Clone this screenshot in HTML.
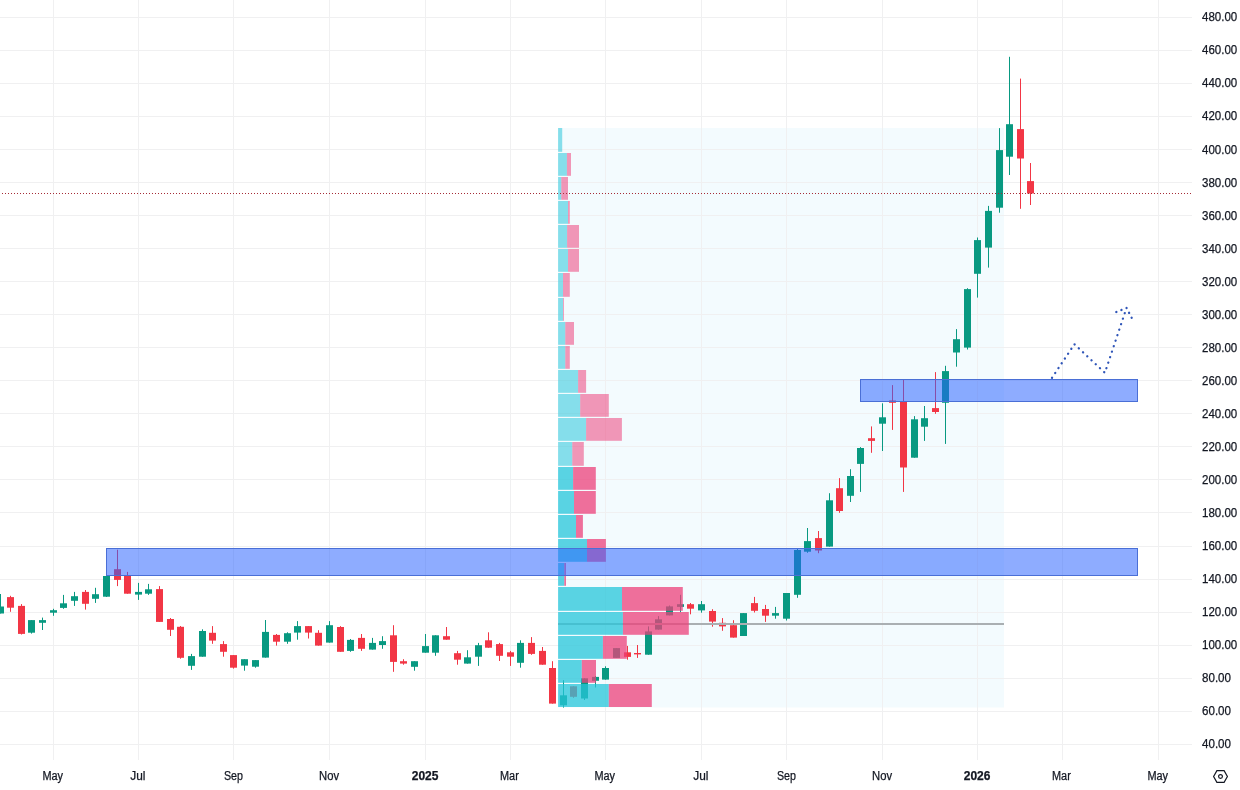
<!DOCTYPE html>
<html lang="en"><head><meta charset="utf-8"><title>Chart</title>
<style>html,body{margin:0;padding:0;background:#fff}body{width:1240px;height:790px;overflow:hidden}svg{display:block}text{font-family:"Liberation Sans",Arial,sans-serif;font-size:12px;fill:#131722;stroke:#131722;stroke-width:.25px}</style></head><body>
<svg width="1240" height="790" viewBox="0 0 1240 790">
<rect width="1240" height="790" fill="#fff"/>
<rect x="558" y="128" width="446" height="579.5" fill="#f3fbfe"/>
<g stroke="#f0f0f1" stroke-width="1" shape-rendering="crispEdges">
<line x1="0" y1="744.5" x2="1192" y2="744.5"/>
<line x1="0" y1="711.5" x2="1192" y2="711.5"/>
<line x1="0" y1="678.5" x2="1192" y2="678.5"/>
<line x1="0" y1="645.5" x2="1192" y2="645.5"/>
<line x1="0" y1="612.5" x2="1192" y2="612.5"/>
<line x1="0" y1="579.5" x2="1192" y2="579.5"/>
<line x1="0" y1="546.5" x2="1192" y2="546.5"/>
<line x1="0" y1="512.5" x2="1192" y2="512.5"/>
<line x1="0" y1="479.5" x2="1192" y2="479.5"/>
<line x1="0" y1="446.5" x2="1192" y2="446.5"/>
<line x1="0" y1="413.5" x2="1192" y2="413.5"/>
<line x1="0" y1="380.5" x2="1192" y2="380.5"/>
<line x1="0" y1="347.5" x2="1192" y2="347.5"/>
<line x1="0" y1="314.5" x2="1192" y2="314.5"/>
<line x1="0" y1="281.5" x2="1192" y2="281.5"/>
<line x1="0" y1="248.5" x2="1192" y2="248.5"/>
<line x1="0" y1="215.5" x2="1192" y2="215.5"/>
<line x1="0" y1="182.5" x2="1192" y2="182.5"/>
<line x1="0" y1="149.5" x2="1192" y2="149.5"/>
<line x1="0" y1="116.5" x2="1192" y2="116.5"/>
<line x1="0" y1="83.5" x2="1192" y2="83.5"/>
<line x1="0" y1="50.5" x2="1192" y2="50.5"/>
<line x1="0" y1="17.5" x2="1192" y2="17.5"/>
<line x1="53.5" y1="0" x2="53.5" y2="760"/>
<line x1="138.5" y1="0" x2="138.5" y2="760"/>
<line x1="233.5" y1="0" x2="233.5" y2="760"/>
<line x1="329.5" y1="0" x2="329.5" y2="760"/>
<line x1="425.5" y1="0" x2="425.5" y2="760"/>
<line x1="510.5" y1="0" x2="510.5" y2="760"/>
<line x1="605.5" y1="0" x2="605.5" y2="760"/>
<line x1="701.5" y1="0" x2="701.5" y2="760"/>
<line x1="786.5" y1="0" x2="786.5" y2="760"/>
<line x1="882.5" y1="0" x2="882.5" y2="760"/>
<line x1="977.5" y1="0" x2="977.5" y2="760"/>
<line x1="1062.5" y1="0" x2="1062.5" y2="760"/>
<line x1="1158.5" y1="0" x2="1158.5" y2="760"/>
</g>
<g>
<rect x="0.0" y="594.0" width="1" height="19.5" fill="#089981"/><rect x="-3.0" y="606.5" width="7" height="7.0" fill="#089981"/>
<rect x="10.0" y="595.8" width="1" height="16.0" fill="#F23645"/><rect x="7.0" y="597.1" width="7" height="10.6" fill="#F23645"/>
<rect x="21.0" y="604.1" width="1" height="30.4" fill="#F23645"/><rect x="18.0" y="605.9" width="7" height="28.0" fill="#F23645"/>
<rect x="31.0" y="620.1" width="1" height="13.5" fill="#089981"/><rect x="28.0" y="620.1" width="7" height="12.6" fill="#089981"/>
<rect x="42.0" y="617.6" width="1" height="12.4" fill="#089981"/><rect x="39.0" y="620.1" width="7" height="2.7" fill="#089981"/>
<rect x="53.0" y="608.8" width="1" height="7.0" fill="#089981"/><rect x="50.0" y="610.2" width="7" height="2.5" fill="#089981"/>
<rect x="63.0" y="594.9" width="1" height="13.9" fill="#089981"/><rect x="60.0" y="603.3" width="7" height="4.6" fill="#089981"/>
<rect x="74.0" y="591.9" width="1" height="14.0" fill="#089981"/><rect x="71.0" y="596.2" width="7" height="4.6" fill="#089981"/>
<rect x="85.0" y="590.0" width="1" height="19.6" fill="#F23645"/><rect x="82.0" y="591.9" width="7" height="11.9" fill="#F23645"/>
<rect x="95.0" y="587.8" width="1" height="15.1" fill="#089981"/><rect x="92.0" y="594.2" width="7" height="4.6" fill="#089981"/>
<rect x="106.0" y="575.5" width="1" height="21.5" fill="#089981"/><rect x="103.0" y="576.0" width="7" height="20.7" fill="#089981"/>
<rect x="117.0" y="549.7" width="1" height="36.4" fill="#F23645"/><rect x="114.0" y="569.2" width="7" height="10.7" fill="#F23645"/>
<rect x="127.0" y="571.9" width="1" height="21.8" fill="#F23645"/><rect x="124.0" y="575.4" width="7" height="18.3" fill="#F23645"/>
<rect x="138.0" y="582.9" width="1" height="17.0" fill="#089981"/><rect x="135.0" y="591.9" width="7" height="2.7" fill="#089981"/>
<rect x="148.0" y="583.9" width="1" height="11.0" fill="#089981"/><rect x="145.0" y="589.3" width="7" height="4.4" fill="#089981"/>
<rect x="159.0" y="586.1" width="1" height="35.8" fill="#F23645"/><rect x="156.0" y="589.1" width="7" height="32.8" fill="#F23645"/>
<rect x="170.0" y="618.0" width="1" height="18.0" fill="#F23645"/><rect x="167.0" y="619.0" width="7" height="10.8" fill="#F23645"/>
<rect x="180.0" y="626.0" width="1" height="32.7" fill="#F23645"/><rect x="177.0" y="626.8" width="7" height="31.0" fill="#F23645"/>
<rect x="191.0" y="653.9" width="1" height="16.0" fill="#089981"/><rect x="188.0" y="656.1" width="7" height="9.7" fill="#089981"/>
<rect x="202.0" y="629.3" width="1" height="27.4" fill="#089981"/><rect x="199.0" y="631.0" width="7" height="25.7" fill="#089981"/>
<rect x="212.0" y="626.1" width="1" height="17.7" fill="#F23645"/><rect x="209.0" y="632.8" width="7" height="7.8" fill="#F23645"/>
<rect x="223.0" y="641.1" width="1" height="15.6" fill="#F23645"/><rect x="220.0" y="644.1" width="7" height="7.7" fill="#F23645"/>
<rect x="233.0" y="655.1" width="1" height="13.5" fill="#F23645"/><rect x="230.0" y="655.1" width="7" height="12.6" fill="#F23645"/>
<rect x="244.0" y="659.2" width="1" height="11.5" fill="#089981"/><rect x="241.0" y="659.2" width="7" height="6.4" fill="#089981"/>
<rect x="255.0" y="660.1" width="1" height="7.6" fill="#089981"/><rect x="252.0" y="660.1" width="7" height="6.6" fill="#089981"/>
<rect x="265.0" y="620.0" width="1" height="37.6" fill="#089981"/><rect x="262.0" y="631.9" width="7" height="25.7" fill="#089981"/>
<rect x="276.0" y="634.0" width="1" height="11.6" fill="#F23645"/><rect x="273.0" y="634.9" width="7" height="6.8" fill="#F23645"/>
<rect x="287.0" y="632.3" width="1" height="11.5" fill="#089981"/><rect x="284.0" y="633.2" width="7" height="8.5" fill="#089981"/>
<rect x="297.0" y="621.1" width="1" height="18.6" fill="#089981"/><rect x="294.0" y="626.1" width="7" height="6.5" fill="#089981"/>
<rect x="308.0" y="626.1" width="1" height="12.4" fill="#F23645"/><rect x="305.0" y="626.1" width="7" height="6.5" fill="#F23645"/>
<rect x="318.0" y="630.2" width="1" height="15.4" fill="#F23645"/><rect x="315.0" y="632.8" width="7" height="12.8" fill="#F23645"/>
<rect x="329.0" y="621.1" width="1" height="21.5" fill="#089981"/><rect x="326.0" y="625.2" width="7" height="17.4" fill="#089981"/>
<rect x="340.0" y="626.1" width="1" height="25.7" fill="#F23645"/><rect x="337.0" y="627.0" width="7" height="24.8" fill="#F23645"/>
<rect x="350.0" y="639.0" width="1" height="12.8" fill="#089981"/><rect x="347.0" y="639.9" width="7" height="11.0" fill="#089981"/>
<rect x="361.0" y="634.0" width="1" height="16.9" fill="#F23645"/><rect x="358.0" y="637.9" width="7" height="10.9" fill="#F23645"/>
<rect x="372.0" y="637.9" width="1" height="11.7" fill="#089981"/><rect x="369.0" y="642.9" width="7" height="6.7" fill="#089981"/>
<rect x="382.0" y="636.2" width="1" height="12.6" fill="#089981"/><rect x="379.0" y="641.1" width="7" height="3.9" fill="#089981"/>
<rect x="393.0" y="625.2" width="1" height="46.6" fill="#F23645"/><rect x="390.0" y="635.3" width="7" height="26.6" fill="#F23645"/>
<rect x="403.0" y="659.2" width="1" height="5.5" fill="#F23645"/><rect x="400.0" y="661.2" width="7" height="2.4" fill="#F23645"/>
<rect x="414.0" y="661.2" width="1" height="9.5" fill="#089981"/><rect x="411.0" y="661.2" width="7" height="5.6" fill="#089981"/>
<rect x="425.0" y="634.0" width="1" height="18.7" fill="#089981"/><rect x="422.0" y="646.1" width="7" height="6.6" fill="#089981"/>
<rect x="435.0" y="635.3" width="1" height="20.5" fill="#089981"/><rect x="432.0" y="635.3" width="7" height="17.4" fill="#089981"/>
<rect x="446.0" y="627.0" width="1" height="12.7" fill="#F23645"/><rect x="443.0" y="636.2" width="7" height="3.5" fill="#F23645"/>
<rect x="457.0" y="650.9" width="1" height="13.8" fill="#F23645"/><rect x="454.0" y="653.2" width="7" height="6.5" fill="#F23645"/>
<rect x="467.0" y="650.2" width="1" height="13.4" fill="#089981"/><rect x="464.0" y="657.3" width="7" height="6.3" fill="#089981"/>
<rect x="478.0" y="642.9" width="1" height="23.0" fill="#089981"/><rect x="475.0" y="645.2" width="7" height="11.5" fill="#089981"/>
<rect x="488.0" y="632.3" width="1" height="15.4" fill="#F23645"/><rect x="485.0" y="640.3" width="7" height="7.4" fill="#F23645"/>
<rect x="499.0" y="642.9" width="1" height="18.1" fill="#F23645"/><rect x="496.0" y="644.1" width="7" height="11.7" fill="#F23645"/>
<rect x="510.0" y="650.9" width="1" height="15.0" fill="#F23645"/><rect x="507.0" y="652.3" width="7" height="4.4" fill="#F23645"/>
<rect x="520.0" y="640.3" width="1" height="27.4" fill="#089981"/><rect x="517.0" y="642.9" width="7" height="19.9" fill="#089981"/>
<rect x="531.0" y="637.1" width="1" height="17.7" fill="#F23645"/><rect x="528.0" y="642.9" width="7" height="11.0" fill="#F23645"/>
<rect x="542.0" y="647.0" width="1" height="17.7" fill="#F23645"/><rect x="539.0" y="650.9" width="7" height="13.8" fill="#F23645"/>
<rect x="552.0" y="661.2" width="1" height="42.4" fill="#F23645"/><rect x="549.0" y="668.0" width="7" height="35.6" fill="#F23645"/>
<rect x="563.0" y="680.2" width="1" height="27.4" fill="#089981"/><rect x="560.0" y="695.3" width="7" height="10.0" fill="#089981"/>
<rect x="573.0" y="686.3" width="1" height="11.5" fill="#F23645"/><rect x="570.0" y="686.3" width="7" height="10.5" fill="#F23645"/>
<rect x="584.0" y="678.3" width="1" height="21.7" fill="#089981"/><rect x="581.0" y="678.3" width="7" height="20.2" fill="#089981"/>
<rect x="595.0" y="676.0" width="1" height="11.5" fill="#089981"/><rect x="592.0" y="676.9" width="7" height="3.9" fill="#089981"/>
<rect x="605.0" y="666.3" width="1" height="13.3" fill="#089981"/><rect x="602.0" y="668.0" width="7" height="11.6" fill="#089981"/>
<rect x="616.0" y="648.1" width="1" height="9.8" fill="#089981"/><rect x="613.0" y="648.1" width="7" height="9.8" fill="#089981"/>
<rect x="627.0" y="645.9" width="1" height="13.8" fill="#F23645"/><rect x="624.0" y="652.3" width="7" height="4.6" fill="#F23645"/>
<rect x="637.0" y="645.0" width="1" height="12.9" fill="#F23645"/><rect x="634.0" y="653.0" width="7" height="1.4" fill="#F23645"/>
<rect x="648.0" y="626.4" width="1" height="28.3" fill="#089981"/><rect x="645.0" y="631.4" width="7" height="23.3" fill="#089981"/>
<rect x="658.0" y="616.1" width="1" height="13.5" fill="#089981"/><rect x="655.0" y="619.3" width="7" height="10.3" fill="#089981"/>
<rect x="669.0" y="605.5" width="1" height="9.9" fill="#089981"/><rect x="666.0" y="606.4" width="7" height="9.0" fill="#089981"/>
<rect x="680.0" y="594.8" width="1" height="17.4" fill="#089981"/><rect x="677.0" y="604.2" width="7" height="2.7" fill="#089981"/>
<rect x="690.0" y="603.0" width="1" height="11.3" fill="#F23645"/><rect x="687.0" y="604.2" width="7" height="4.5" fill="#F23645"/>
<rect x="701.0" y="601.0" width="1" height="11.7" fill="#089981"/><rect x="698.0" y="604.2" width="7" height="6.2" fill="#089981"/>
<rect x="712.0" y="609.2" width="1" height="17.5" fill="#F23645"/><rect x="709.0" y="611.0" width="7" height="10.6" fill="#F23645"/>
<rect x="722.0" y="618.1" width="1" height="12.7" fill="#F23645"/><rect x="719.0" y="622.8" width="7" height="3.6" fill="#F23645"/>
<rect x="733.0" y="620.2" width="1" height="17.4" fill="#F23645"/><rect x="730.0" y="625.2" width="7" height="12.4" fill="#F23645"/>
<rect x="743.0" y="613.1" width="1" height="22.9" fill="#089981"/><rect x="740.0" y="613.1" width="7" height="22.9" fill="#089981"/>
<rect x="754.0" y="596.9" width="1" height="15.6" fill="#F23645"/><rect x="751.0" y="603.1" width="7" height="7.7" fill="#F23645"/>
<rect x="765.0" y="604.9" width="1" height="17.0" fill="#F23645"/><rect x="762.0" y="609.0" width="7" height="6.7" fill="#F23645"/>
<rect x="775.0" y="606.9" width="1" height="11.8" fill="#089981"/><rect x="772.0" y="613.1" width="7" height="2.6" fill="#089981"/>
<rect x="786.0" y="593.0" width="1" height="27.5" fill="#089981"/><rect x="783.0" y="593.0" width="7" height="25.7" fill="#089981"/>
<rect x="797.0" y="548.2" width="1" height="49.6" fill="#089981"/><rect x="794.0" y="550.0" width="7" height="44.8" fill="#089981"/>
<rect x="807.0" y="528.0" width="1" height="24.8" fill="#089981"/><rect x="804.0" y="541.1" width="7" height="10.6" fill="#089981"/>
<rect x="818.0" y="531.0" width="1" height="22.2" fill="#F23645"/><rect x="815.0" y="538.1" width="7" height="12.4" fill="#F23645"/>
<rect x="829.0" y="493.2" width="1" height="53.4" fill="#089981"/><rect x="826.0" y="500.3" width="7" height="46.3" fill="#089981"/>
<rect x="839.0" y="478.1" width="1" height="34.7" fill="#F23645"/><rect x="836.0" y="488.2" width="7" height="22.8" fill="#F23645"/>
<rect x="850.0" y="469.2" width="1" height="32.8" fill="#089981"/><rect x="847.0" y="476.0" width="7" height="19.8" fill="#089981"/>
<rect x="860.0" y="447.1" width="1" height="44.8" fill="#089981"/><rect x="857.0" y="448.0" width="7" height="15.9" fill="#089981"/>
<rect x="871.0" y="426.4" width="1" height="26.4" fill="#F23645"/><rect x="868.0" y="438.2" width="7" height="2.7" fill="#F23645"/>
<rect x="882.0" y="403.3" width="1" height="47.7" fill="#089981"/><rect x="879.0" y="417.3" width="7" height="6.4" fill="#089981"/>
<rect x="892.0" y="385.1" width="1" height="44.8" fill="#F23645"/><rect x="889.0" y="400.5" width="7" height="2.3" fill="#F23645"/>
<rect x="903.0" y="379.7" width="1" height="112.2" fill="#F23645"/><rect x="900.0" y="401.9" width="7" height="65.6" fill="#F23645"/>
<rect x="914.0" y="416.1" width="1" height="41.6" fill="#089981"/><rect x="911.0" y="419.3" width="7" height="38.4" fill="#089981"/>
<rect x="924.0" y="406.0" width="1" height="34.9" fill="#089981"/><rect x="921.0" y="418.2" width="7" height="8.5" fill="#089981"/>
<rect x="935.0" y="372.1" width="1" height="41.7" fill="#F23645"/><rect x="932.0" y="408.1" width="7" height="3.9" fill="#F23645"/>
<rect x="945.0" y="365.8" width="1" height="78.1" fill="#089981"/><rect x="942.0" y="371.1" width="7" height="31.7" fill="#089981"/>
<rect x="956.0" y="329.1" width="1" height="37.6" fill="#089981"/><rect x="953.0" y="339.2" width="7" height="13.3" fill="#089981"/>
<rect x="967.0" y="288.2" width="1" height="61.3" fill="#089981"/><rect x="964.0" y="289.1" width="7" height="58.5" fill="#089981"/>
<rect x="977.0" y="237.5" width="1" height="60.1" fill="#089981"/><rect x="974.0" y="240.1" width="7" height="33.7" fill="#089981"/>
<rect x="988.0" y="205.9" width="1" height="61.7" fill="#089981"/><rect x="985.0" y="210.9" width="7" height="36.7" fill="#089981"/>
<rect x="999.0" y="128.1" width="1" height="84.6" fill="#089981"/><rect x="996.0" y="150.1" width="7" height="57.6" fill="#089981"/>
<rect x="1009.0" y="56.8" width="1" height="118.2" fill="#089981"/><rect x="1006.0" y="124.2" width="7" height="32.5" fill="#089981"/>
<rect x="1020.0" y="78.6" width="1" height="130.2" fill="#F23645"/><rect x="1017.0" y="129.1" width="7" height="29.4" fill="#F23645"/>
<rect x="1030.0" y="163.0" width="1" height="42.0" fill="#F23645"/><rect x="1027.0" y="181.1" width="7" height="12.4" fill="#F23645"/>
</g>
<rect x="558" y="623" width="446" height="2" fill="#aaafb2"/>
<g>
<rect x="558.1" y="128.00" width="4.1" height="23.80" fill="#26c6da" fill-opacity="0.54"/>
<rect x="558.1" y="153.00" width="8.8" height="22.80" fill="#26c6da" fill-opacity="0.54"/>
<rect x="566.9" y="153.00" width="4.1" height="22.80" fill="#ec407a" fill-opacity="0.54"/>
<rect x="558.1" y="177.00" width="3.2" height="22.80" fill="#26c6da" fill-opacity="0.54"/>
<rect x="561.3" y="177.00" width="6.7" height="22.80" fill="#ec407a" fill-opacity="0.54"/>
<rect x="558.1" y="201.00" width="9.9" height="22.80" fill="#26c6da" fill-opacity="0.54"/>
<rect x="568" y="201.00" width="1.8" height="22.80" fill="#ec407a" fill-opacity="0.54"/>
<rect x="558.1" y="225.00" width="9.0" height="22.80" fill="#26c6da" fill-opacity="0.54"/>
<rect x="567.1" y="225.00" width="11.9" height="22.80" fill="#ec407a" fill-opacity="0.54"/>
<rect x="558.1" y="249.00" width="9.9" height="22.80" fill="#26c6da" fill-opacity="0.54"/>
<rect x="568" y="249.00" width="11.0" height="22.80" fill="#ec407a" fill-opacity="0.54"/>
<rect x="558.1" y="273.00" width="4.9" height="23.80" fill="#26c6da" fill-opacity="0.54"/>
<rect x="563" y="273.00" width="6.8" height="23.80" fill="#ec407a" fill-opacity="0.54"/>
<rect x="558.1" y="298.00" width="4.9" height="22.80" fill="#26c6da" fill-opacity="0.54"/>
<rect x="563" y="298.00" width="0.9" height="22.80" fill="#ec407a" fill-opacity="0.54"/>
<rect x="558.1" y="322.00" width="7.2" height="22.80" fill="#26c6da" fill-opacity="0.54"/>
<rect x="565.3" y="322.00" width="8.7" height="22.80" fill="#ec407a" fill-opacity="0.54"/>
<rect x="558.1" y="346.00" width="7.2" height="22.80" fill="#26c6da" fill-opacity="0.54"/>
<rect x="565.3" y="346.00" width="4.5" height="22.80" fill="#ec407a" fill-opacity="0.54"/>
<rect x="558.1" y="370.00" width="20.0" height="22.80" fill="#26c6da" fill-opacity="0.54"/>
<rect x="578.1" y="370.00" width="8.0" height="22.80" fill="#ec407a" fill-opacity="0.54"/>
<rect x="558.1" y="394.00" width="22.1" height="22.80" fill="#26c6da" fill-opacity="0.54"/>
<rect x="580.2" y="394.00" width="28.6" height="22.80" fill="#ec407a" fill-opacity="0.54"/>
<rect x="558.1" y="418.00" width="28.0" height="22.80" fill="#26c6da" fill-opacity="0.54"/>
<rect x="586.1" y="418.00" width="35.8" height="22.80" fill="#ec407a" fill-opacity="0.54"/>
<rect x="558.1" y="442.00" width="14.2" height="23.80" fill="#26c6da" fill-opacity="0.54"/>
<rect x="572.3" y="442.00" width="11.5" height="23.80" fill="#ec407a" fill-opacity="0.54"/>
<rect x="558.1" y="467.00" width="15.0" height="22.80" fill="#26c6da" fill-opacity="0.75"/>
<rect x="573.1" y="467.00" width="22.7" height="22.80" fill="#ec407a" fill-opacity="0.75"/>
<rect x="558.1" y="491.00" width="15.9" height="22.80" fill="#26c6da" fill-opacity="0.75"/>
<rect x="574" y="491.00" width="21.8" height="22.80" fill="#ec407a" fill-opacity="0.75"/>
<rect x="558.1" y="515.00" width="17.9" height="22.80" fill="#26c6da" fill-opacity="0.75"/>
<rect x="576" y="515.00" width="6.9" height="22.80" fill="#ec407a" fill-opacity="0.75"/>
<rect x="558.1" y="539.00" width="28.9" height="22.80" fill="#26c6da" fill-opacity="0.75"/>
<rect x="587" y="539.00" width="18.9" height="22.80" fill="#ec407a" fill-opacity="0.75"/>
<rect x="558.1" y="563.00" width="6.2" height="22.80" fill="#26c6da" fill-opacity="0.75"/>
<rect x="564.3" y="563.00" width="1.7" height="22.80" fill="#ec407a" fill-opacity="0.75"/>
<rect x="558.1" y="587.00" width="63.9" height="23.80" fill="#26c6da" fill-opacity="0.75"/>
<rect x="622" y="587.00" width="60.8" height="23.80" fill="#ec407a" fill-opacity="0.75"/>
<rect x="558.1" y="612.00" width="64.8" height="22.80" fill="#26c6da" fill-opacity="0.75"/>
<rect x="622.9" y="612.00" width="65.9" height="22.80" fill="#ec407a" fill-opacity="0.75"/>
<rect x="558.1" y="636.00" width="44.8" height="22.80" fill="#26c6da" fill-opacity="0.75"/>
<rect x="602.9" y="636.00" width="23.9" height="22.80" fill="#ec407a" fill-opacity="0.75"/>
<rect x="558.1" y="660.00" width="23.7" height="22.80" fill="#26c6da" fill-opacity="0.75"/>
<rect x="581.8" y="660.00" width="14.2" height="22.80" fill="#ec407a" fill-opacity="0.75"/>
<rect x="558.1" y="684.00" width="50.7" height="23.00" fill="#26c6da" fill-opacity="0.75"/>
<rect x="608.8" y="684.00" width="43.0" height="23.00" fill="#ec407a" fill-opacity="0.75"/>
</g>
<rect x="106.5" y="548.5" width="1031" height="27" fill="#2962ff" fill-opacity="0.53" stroke="#4a6fd6" stroke-width="1"/>
<rect x="860.5" y="379.5" width="277" height="22" fill="#2962ff" fill-opacity="0.53" stroke="#4a6fd6" stroke-width="1"/>
<line x1="-1" y1="193.5" x2="1192" y2="193.5" stroke="#a52b36" stroke-width="1" stroke-dasharray="1 2"/>
<path d="M1052 377.8 L1074.4 344.2 L1104.9 372.8 L1126.5 307.9" fill="none" stroke="#2f55b8" stroke-width="2.3" stroke-dasharray="0.1 5.7" stroke-linecap="round"/>
<path d="M1116.3 312 L1126.5 307.9 L1132.1 318.6" fill="none" stroke="#2f55b8" stroke-width="2.3" stroke-dasharray="0.1 5.4" stroke-linecap="round"/>
<text x="1202" y="747.9" textLength="29.0" lengthAdjust="spacingAndGlyphs">40.00</text>
<text x="1202" y="714.9" textLength="29.0" lengthAdjust="spacingAndGlyphs">60.00</text>
<text x="1202" y="681.9" textLength="29.0" lengthAdjust="spacingAndGlyphs">80.00</text>
<text x="1202" y="648.9" textLength="35.2" lengthAdjust="spacingAndGlyphs">100.00</text>
<text x="1202" y="615.9" textLength="35.2" lengthAdjust="spacingAndGlyphs">120.00</text>
<text x="1202" y="582.9" textLength="35.2" lengthAdjust="spacingAndGlyphs">140.00</text>
<text x="1202" y="549.9" textLength="35.2" lengthAdjust="spacingAndGlyphs">160.00</text>
<text x="1202" y="516.9" textLength="35.2" lengthAdjust="spacingAndGlyphs">180.00</text>
<text x="1202" y="483.9" textLength="35.2" lengthAdjust="spacingAndGlyphs">200.00</text>
<text x="1202" y="450.9" textLength="35.2" lengthAdjust="spacingAndGlyphs">220.00</text>
<text x="1202" y="417.9" textLength="35.2" lengthAdjust="spacingAndGlyphs">240.00</text>
<text x="1202" y="384.9" textLength="35.2" lengthAdjust="spacingAndGlyphs">260.00</text>
<text x="1202" y="351.9" textLength="35.2" lengthAdjust="spacingAndGlyphs">280.00</text>
<text x="1202" y="318.9" textLength="35.2" lengthAdjust="spacingAndGlyphs">300.00</text>
<text x="1202" y="285.9" textLength="35.2" lengthAdjust="spacingAndGlyphs">320.00</text>
<text x="1202" y="252.9" textLength="35.2" lengthAdjust="spacingAndGlyphs">340.00</text>
<text x="1202" y="219.9" textLength="35.2" lengthAdjust="spacingAndGlyphs">360.00</text>
<text x="1202" y="186.9" textLength="35.2" lengthAdjust="spacingAndGlyphs">380.00</text>
<text x="1202" y="153.9" textLength="35.2" lengthAdjust="spacingAndGlyphs">400.00</text>
<text x="1202" y="119.9" textLength="35.2" lengthAdjust="spacingAndGlyphs">420.00</text>
<text x="1202" y="86.9" textLength="35.2" lengthAdjust="spacingAndGlyphs">440.00</text>
<text x="1202" y="53.9" textLength="35.2" lengthAdjust="spacingAndGlyphs">460.00</text>
<text x="1202" y="20.9" textLength="35.2" lengthAdjust="spacingAndGlyphs">480.00</text>
<text x="42.4" y="780" textLength="20.6" lengthAdjust="spacingAndGlyphs" class="t">May</text>
<text x="130.2" y="780" textLength="15.2" lengthAdjust="spacingAndGlyphs" class="t">Jul</text>
<text x="224.0" y="780" textLength="19.0" lengthAdjust="spacingAndGlyphs" class="t">Sep</text>
<text x="319.1" y="780" textLength="20.0" lengthAdjust="spacingAndGlyphs" class="t">Nov</text>
<text x="425.1" y="780" text-anchor="middle" font-weight="bold">2025</text>
<text x="500.0" y="780" textLength="18.8" lengthAdjust="spacingAndGlyphs" class="t">Mar</text>
<text x="594.4" y="780" textLength="20.6" lengthAdjust="spacingAndGlyphs" class="t">May</text>
<text x="693.2" y="780" textLength="15.2" lengthAdjust="spacingAndGlyphs" class="t">Jul</text>
<text x="777.0" y="780" textLength="19.0" lengthAdjust="spacingAndGlyphs" class="t">Sep</text>
<text x="872.1" y="780" textLength="20.0" lengthAdjust="spacingAndGlyphs" class="t">Nov</text>
<text x="977.1" y="780" text-anchor="middle" font-weight="bold">2026</text>
<text x="1052.0" y="780" textLength="18.8" lengthAdjust="spacingAndGlyphs" class="t">Mar</text>
<text x="1147.4" y="780" textLength="20.6" lengthAdjust="spacingAndGlyphs" class="t">May</text>
<g fill="none" stroke="#131722" stroke-width="1.2"><path d="M1213.6 776.5 L1216.9 770.7 L1224.1 770.7 L1227.4 776.5 L1224.1 782.3 L1216.9 782.3 Z" stroke-linejoin="miter"/><circle cx="1220.5" cy="776.5" r="1.9"/></g>
</svg></body></html>
